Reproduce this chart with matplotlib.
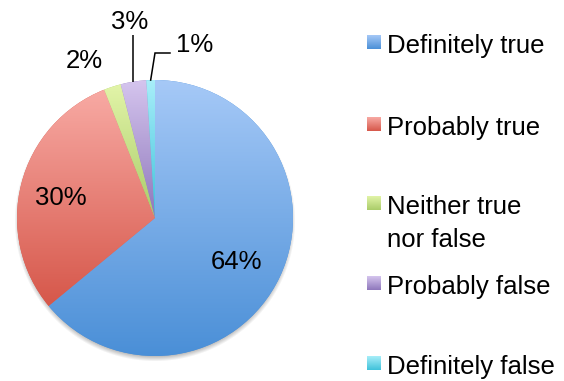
import numpy as np
import matplotlib
matplotlib.use("Agg")
import matplotlib.pyplot as plt
from matplotlib.colors import LinearSegmentedColormap

# ---- data ----
categories = ["Definitely true", "Probably true", "Neither true\nnor false",
              "Probably false", "Definitely false"]
shares = [64, 30, 2, 3, 1]
pct_labels = [f"{v}%" for v in shares]

# gradient fills (top colour, bottom colour) per category
top_colors = ["#a6c9f7", "#f8aaa4", "#e2f4a8", "#d5c5ee", "#a8eef9"]
bottom_colors = ["#4a8fd7", "#d6574a", "#a9cc69", "#8e77bb", "#3fc2da"]

plt.rcParams["font.family"] = ["Liberation Sans", "DejaVu Sans"]
FS = 18.5

W, H = 564, 381
fig = plt.figure(figsize=(W / 100, H / 100), dpi=100)
ax = fig.add_axes([0, 0, 1, 1])

cx, cy, R = 155, 163, 138


def vgrad(top, bottom):
    return LinearSegmentedColormap.from_list("g", [bottom, top])


grad = np.linspace(0, 1, 256).reshape(-1, 1)

# soft drop shadow under the pie
yy, xx = np.mgrid[0:H, 0:W] + 0.5
d = np.hypot(xx - cx, yy - (cy - 3))
alpha = np.clip((R + 2.5 - d) / 5.0, 0, 1) * 0.45
shadow = np.zeros((H, W, 4))
shadow[..., :3] = 0.45
shadow[..., 3] = alpha
ax.imshow(shadow, extent=(0, W, 0, H), origin="lower", zorder=0.5,
          interpolation="bilinear")

wedges, _ = ax.pie(shares, startangle=90, counterclock=False,
                   center=(cx, cy), radius=R, colors=bottom_colors,
                   wedgeprops=dict(linewidth=0))

for w, top, bot in zip(wedges, top_colors, bottom_colors):
    ext = w.get_path().get_extents()
    im = ax.imshow(grad, cmap=vgrad(top, bot), origin="lower", aspect="auto",
                   extent=(ext.x0, ext.x1, ext.y0, ext.y1),
                   interpolation="bilinear", zorder=2)
    im.set_clip_path(w)

# percentage labels
label_pos = [(237, 119), (60.5, 183), (84, 320), (130, 359), (195, 336)]
for (x, y), txt in zip(label_pos, pct_labels):
    ax.text(x, y, txt, ha="center", va="center", fontsize=FS, color="black",
            zorder=5)


def rim_point(w):
    a = np.deg2rad((w.theta1 + w.theta2) / 2)
    return cx + R * np.cos(a), cy + R * np.sin(a)


# leader lines for the two small slices at the top
x3, y3 = rim_point(wedges[3])
ax.plot([x3, x3], [y3, 346], color="black", lw=1.1, zorder=5,
        solid_capstyle="butt")
x4, y4 = rim_point(wedges[4])
ax.plot([x4, 155, 170], [y4, 328, 328], color="black", lw=1.1, zorder=5,
        solid_joinstyle="miter")

# legend
baselines = [53, 135, 214, 294, 374]
line_gap = 33
for name, top, bot, b in zip(categories, top_colors, bottom_colors, baselines):
    yb = H - b
    sq_top, sq_bot = yb + 18, yb + 4
    ax.imshow(grad, cmap=vgrad(top, bot), origin="lower", aspect="auto",
              extent=(367, 381, sq_bot, sq_top), interpolation="bilinear",
              zorder=3)
    for i, line in enumerate(name.split("\n")):
        ax.text(387, yb - i * line_gap, line, ha="left", va="baseline",
                fontsize=FS, color="black")

ax.set_xlim(0, W)
ax.set_ylim(0, H)
ax.set_aspect("equal")
ax.axis("off")

fig.savefig("out.png", dpi=100, facecolor="white")
